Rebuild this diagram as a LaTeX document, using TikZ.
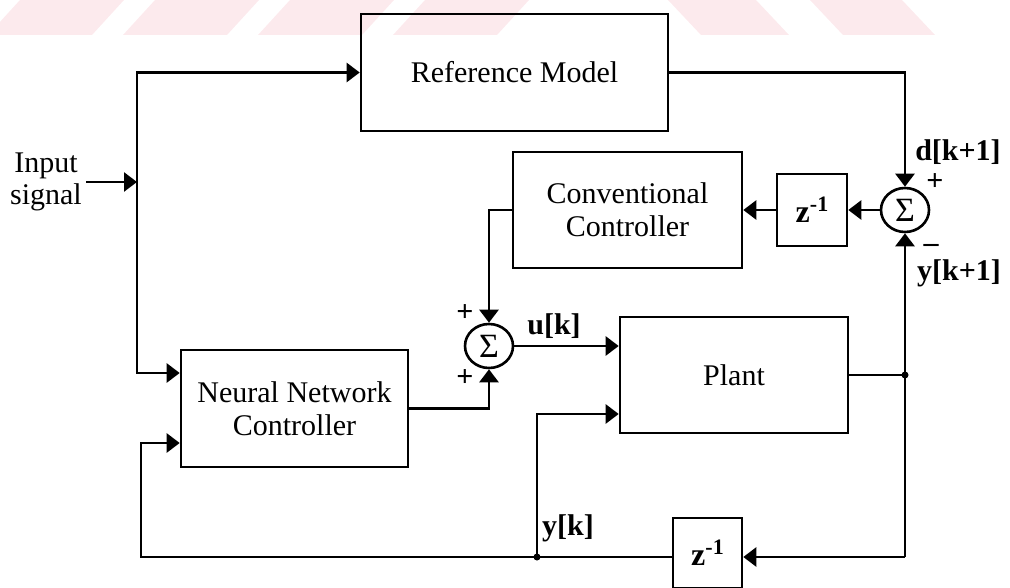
\documentclass[tikz,border=0pt]{standalone}
\usepackage{fontspec}
\setmainfont{Liberation Serif}
\usetikzlibrary{arrows.meta,shapes.geometric}
\definecolor{wm}{RGB}{252,234,237}
\newcommand{\myzinv}{{\bfseries\fontsize{32}{32}\selectfont z\raisebox{11pt}{\fontsize{22}{22}\selectfont -1}}}
\begin{document}
\begin{tikzpicture}[x=1pt,y=-1pt,
  line width=2.6pt,
  arr/.style={-{Triangle[length=13pt,width=19pt]}},
  blk/.style={draw,rectangle,inner sep=0pt,align=center,font=\fontsize{30}{33}\selectfont},
  sumnode/.style={draw,ellipse,inner sep=0pt,minimum width=48pt,minimum height=44pt,font=\fontsize{34}{34}\selectfont},
  lbl/.style={font=\bfseries\fontsize{30}{30}\selectfont,inner sep=0pt},
  sgn/.style={font=\bfseries\fontsize{30}{30}\selectfont,inner sep=0pt},
  dot/.style={circle,fill,inner sep=0pt,minimum size=7pt}
]
\useasboundingbox (0,0) rectangle (1010,588);
\clip (0,0) rectangle (1010,588);
% watermark stripes
\foreach \k in {0,1,2,3}{
  \fill[wm] ({-12+135*\k},35) -- ({92+135*\k},35) -- ({124+135*\k},0) -- ({20+135*\k},0) -- cycle;
}
\fill[wm] (701,35) -- (789,35) -- (756,0) -- (668,0) -- cycle;
\fill[wm] (843,35) -- (935,35) -- (902,0) -- (810,0) -- cycle;

% blocks
\node[blk,minimum width=307pt,minimum height=117pt] (ref) at (514.5,72.5) {Reference Model};
\node[blk,minimum width=229pt,minimum height=116pt] (conv) at (627.5,210) {Conventional\\Controller};
\node[blk,minimum width=70pt,minimum height=72pt] (z1) at (812,210) {\myzinv};
\node[sumnode] (s1) at (905,210) {Σ};
\node[sumnode] (s2) at (489,346) {Σ};
\node[blk,minimum width=228pt,minimum height=116pt] (plant) at (734,375) {Plant};
\node[blk,minimum width=227pt,minimum height=117pt] (nn) at (294.5,408.5) {Neural Network\\Controller};
\node[blk,minimum width=69pt,minimum height=70pt] (z2) at (707.5,553) {\myzinv};

% coordinates
\coordinate (inL) at (86,182);
\coordinate (inJ) at (137,182);
\coordinate (j1) at (905,375);
\coordinate (fbR) at (905,557);
\coordinate (j2) at (537,557);
\coordinate (fbL) at (141,557);

% connectors
\draw[arr] (inL) -- (inJ);
\draw[arr] (inJ) |- (ref.west);
\draw[arr] (inJ) |- ([yshift=35.5pt]nn.west);
\draw[arr] (ref.east) -| (s1.north);
\draw[arr] (s1.west) -- (z1.east);
\draw[arr] (z1.west) -- (conv.east);
\draw[arr] (conv.west) -| (s2.north);
\draw[arr] (nn.east) -| (s2.south);
\draw[arr] (s2.east) -- (s2.east -| plant.west);
\draw (plant.east) -- (j1);
\draw[arr] (j1) -- (s1.south);
\draw (j1) -- (fbR);
\draw[arr] (fbR) -- (fbR -| z2.east);
\draw (z2.west |- fbR) -- (j2);
\draw[arr] (j2) -- (fbL) |- ([yshift=-34.5pt]nn.west);
\draw[arr] (j2) |- ([yshift=-39pt]plant.west);
\node[dot] (d1) at (j1) {};
\node[dot] (d2) at (j2) {};

% labels
\node[font=\fontsize{30}{32}\selectfont,align=center,inner sep=0pt] (inlbl) at (46,182) {Input\\signal};
\node[lbl] (dlbl) at (958,152) {d[k+1]};
\node[lbl] (ylbl1) at (959,273) {y[k+1]};
\node[sgn] (p1) at (935,182) {+};
\node[sgn] (m1) at (931,248) {–};
\node[sgn] (p2) at (465,313) {+};
\node[sgn] (p3) at (465,378) {+};
\node[lbl] (ulbl) at (554,326) {u[k]};
\node[lbl] (yklbl) at (568,528) {y[k]};
\end{tikzpicture}
\end{document}
